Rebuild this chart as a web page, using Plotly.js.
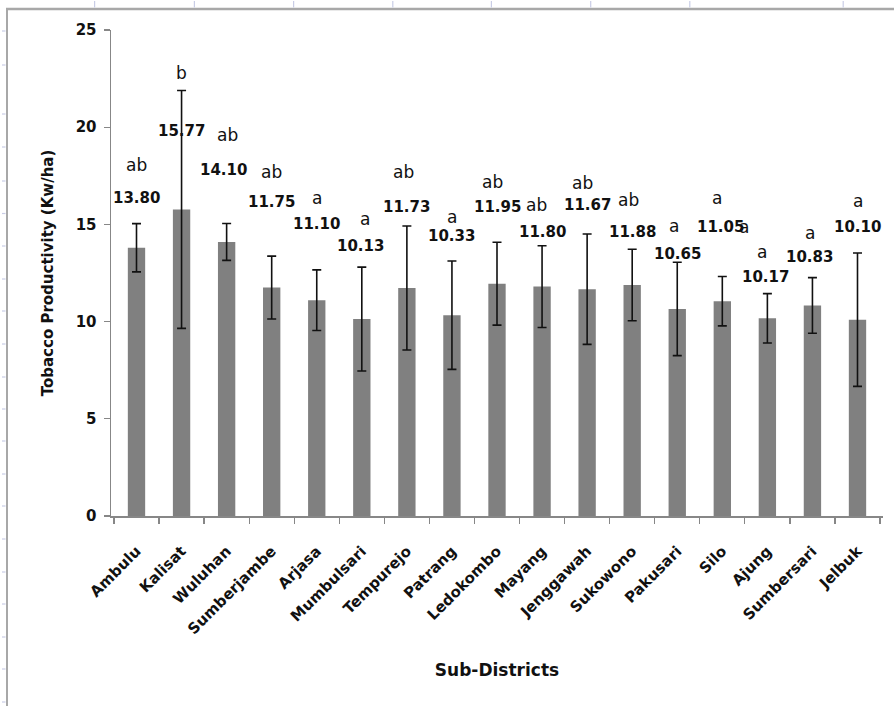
<!DOCTYPE html>
<html>
<head>
<meta charset="utf-8">
<script src="https://cdn.plot.ly/plotly-3.0.1.min.js"></script>
<style>
  html, body { margin: 0; padding: 0; background: #ffffff; }
  #chart { width: 894px; height: 706px; }
</style>
</head>
<body>
<div id="chart"></div>
<script>
// Tobacco productivity per sub-district (Kw/ha), mean ± SD, with DMRT groups
const districts = ['Ambulu', 'Kalisat', 'Wuluhan', 'Sumberjambe', 'Arjasa', 'Mumbulsari',
  'Tempurejo', 'Patrang', 'Ledokombo', 'Mayang', 'Jenggawah', 'Sukowono', 'Pakusari',
  'Silo', 'Ajung', 'Sumbersari', 'Jelbuk'];
const means = [13.80, 15.77, 14.10, 11.75, 11.10, 10.13, 11.73, 10.33, 11.95, 11.80,
  11.67, 11.88, 10.65, 11.05, 10.17, 10.83, 10.10];
const sd = [1.24, 6.12, 0.95, 1.62, 1.56, 2.67, 3.19, 2.79, 2.13, 2.10,
  2.84, 1.84, 2.40, 1.27, 1.27, 1.43, 3.43];
const groups = ['ab', 'b', 'ab', 'ab', 'a', 'a', 'ab', 'a', 'ab', 'ab',
  'ab', 'ab', 'a', 'a', 'a', 'a', 'a'];
const yTicks = [0, 5, 10, 15, 20, 25];

// Hand placement of the text boxes above each bar:
// [letter dx, letter y, value dx, value y]  (dx in category units, y in Kw/ha)
const labelPlacement = [
  [0.00, 18.06, 0.00, 16.37],
  [0.00, 22.80, 0.00, 19.82],
  [0.03, 19.60, -0.06, 17.80],
  [0.00, 17.68, 0.00, 16.14],
  [0.00, 16.37, 0.00, 15.02],
  [0.07, 15.26, -0.02, 13.90],
  [-0.08, 17.68, 0.00, 15.88],
  [0.00, 15.40, 0.00, 14.40],
  [-0.10, 17.17, 0.00, 15.91],
  [-0.13, 16.00, 0.00, 14.62],
  [-0.10, 17.11, 0.00, 16.00],
  [-0.08, 16.26, 0.00, 14.62],
  [-0.07, 14.92, 0.00, 13.48],
  [-0.11, 16.34, -0.04, 14.88],
  [-0.12, 13.60, -0.04, 12.31],
  [-0.05, 14.54, -0.07, 13.34],
  [0.00, 16.22, 0.00, 14.85]
];

const W = 894, H = 706;
const M = { l: 111, r: 11, t: 30, b: 190 };
const PW = W - M.l - M.r, PH = H - M.t - M.b;
const px = x => (x - M.l) / PW;           // page pixel -> paper x
const py = y => (M.t + PH - y) / PH;      // page pixel -> paper y

const FONT = 'DejaVu Sans, Verdana, sans-serif';
const axisGrey = '#878787';

const bars = {
  type: 'bar',
  x: districts,
  y: means,
  marker: { color: '#808080', line: { width: 0 } },
  error_y: {
    type: 'data', array: sd, visible: true,
    color: '#111111', thickness: 1.6, width: 4.5
  },
  hoverinfo: 'x+y'
};

const annotations = [];
districts.forEach((d, i) => {
  const p = labelPlacement[i];
  annotations.push({
    xref: 'x', yref: 'y', x: i + p[0], y: p[1],
    text: groups[i], showarrow: false, xanchor: 'center', yanchor: 'middle',
    font: { family: FONT, size: 17, color: '#111111' }
  });
  annotations.push({
    xref: 'x', yref: 'y', x: i + p[2], y: p[3],
    text: means[i].toFixed(2), showarrow: false, xanchor: 'center', yanchor: 'middle',
    font: { family: FONT, size: 15, color: '#111111', weight: 'bold' }
  });
});
// loose group letter sitting against the Silo value
annotations.push({
  xref: 'x', yref: 'y', x: 13.49, y: 14.85,
  text: 'a', showarrow: false, xanchor: 'center', yanchor: 'middle',
  font: { family: FONT, size: 17, color: '#111111' }
});

// worksheet frame and gridline stubs around the chart object
const shapes = [
  { type: 'line', xref: 'paper', yref: 'paper', x0: px(7), x1: px(7), y0: py(9), y1: py(706),
    line: { color: '#a8a8a8', width: 2 } },
  { type: 'line', xref: 'paper', yref: 'paper', x0: px(6), x1: px(894), y0: py(9), y1: py(9),
    line: { color: '#a8a8a8', width: 2.5 } }
];
[94.6, 194.4, 293.6, 392.8, 491.4, 590.7, 689.8, 843.2].forEach(x => {
  shapes.push({ type: 'line', xref: 'paper', yref: 'paper', x0: px(x), x1: px(x), y0: py(1), y1: py(7.5),
    line: { color: '#c9cde6', width: 1.2 } });
});
[31, 65, 114, 147, 181, 213.5, 246, 279, 311, 344, 377, 409, 441, 474, 506, 539, 572, 604, 637, 669, 702]
  .forEach(y => {
    shapes.push({ type: 'line', xref: 'paper', yref: 'paper', x0: px(2), x1: px(5.5), y0: py(y), y1: py(y),
      line: { color: '#c9cde6', width: 1.2 } });
  });

const layout = {
  width: W, height: H,
  margin: M,
  paper_bgcolor: '#ffffff',
  plot_bgcolor: '#ffffff',
  showlegend: false,
  bargap: 0.615,
  font: { family: FONT, color: '#111111' },
  xaxis: {
    type: 'category',
    tickson: 'boundaries',
    ticks: 'outside', ticklen: 6, tickwidth: 1.2, tickcolor: axisGrey,
    ticklabelstandoff: 19,
    showline: true, linecolor: axisGrey, linewidth: 1.5,
    showgrid: false, zeroline: false,
    tickangle: -45,
    tickfont: { family: FONT, size: 15, color: '#111111', weight: 'bold' },
    title: { text: 'Sub-Districts', standoff: 27,
      font: { family: FONT, size: 17, color: '#111111', weight: 'bold' } },
    automargin: false
  },
  yaxis: {
    range: [0, 25],
    tickvals: yTicks,
    ticks: 'outside', ticklen: 6, tickwidth: 1.2, tickcolor: axisGrey,
    ticklabelstandoff: 4,
    showline: true, linecolor: axisGrey, linewidth: 1.5,
    showgrid: false, zeroline: false,
    tickfont: { family: FONT, size: 15, color: '#111111', weight: 'bold' },
    title: { text: 'Tobacco Productivity (Kw/ha)', standoff: 18,
      font: { family: FONT, size: 15, color: '#111111', weight: 'bold' } },
    automargin: false
  },
  annotations: annotations,
  shapes: shapes
};

Plotly.newPlot('chart', [bars], layout, { displayModeBar: false, staticPlot: true });
</script>
</body>
</html>
